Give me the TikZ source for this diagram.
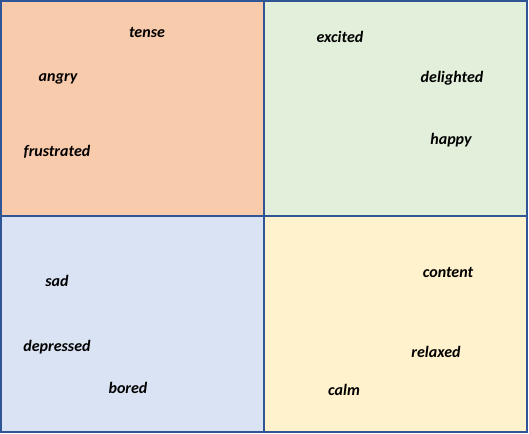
\documentclass[tikz,border=0pt]{standalone}
\usepackage{fontspec}
\setmainfont{Carlito}
\usepackage{tikz}
\definecolor{tenseorange}{HTML}{F8CBAD}
\definecolor{happygreen}{HTML}{E2EFDA}
\definecolor{sadblue}{HTML}{DAE3F3}
\definecolor{calmyellow}{HTML}{FFF2CC}
\definecolor{gridblue}{HTML}{2F5597}

\begin{document}
\begin{tikzpicture}[x=1pt,y=1pt,
	quad/.style={draw=gridblue,line width=1.2pt},
	mood/.style={inner sep=0pt,font=\fontsize{16}{18}\selectfont\bfseries\itshape}]
	\useasboundingbox (0,0) rectangle (529,433);
	% quadrants
	\path[quad,fill=tenseorange] (1,217) rectangle (264,432);
	\path[quad,fill=happygreen] (264,217) rectangle (527,432);
	\path[quad,fill=sadblue] (1,1) rectangle (264,217);
	\path[quad,fill=calmyellow] (264,1) rectangle (527,217);
	% upper left
	\node[mood] (ten) at (147,400) {tense};
	\node[mood] (ang) at (58,354) {angry};
	\node[mood] (fru) at (57,281) {frustrated};
	% upper right
	\node[mood] (exc) at (340,396) {excited};
	\node[mood] (del) at (452,355) {delighted};
	\node[mood] (hap) at (451,293) {happy};
	% lower left
	\node[mood] (sad) at (57,152) {sad};
	\node[mood] (dep) at (57,86) {depressed};
	\node[mood] (bor) at (128,45) {bored};
	% lower right
	\node[mood] (con) at (448,160) {content};
	\node[mood] (rel) at (436,81) {relaxed};
	\node[mood] (cal) at (344,43) {calm};
\end{tikzpicture}
\end{document}
